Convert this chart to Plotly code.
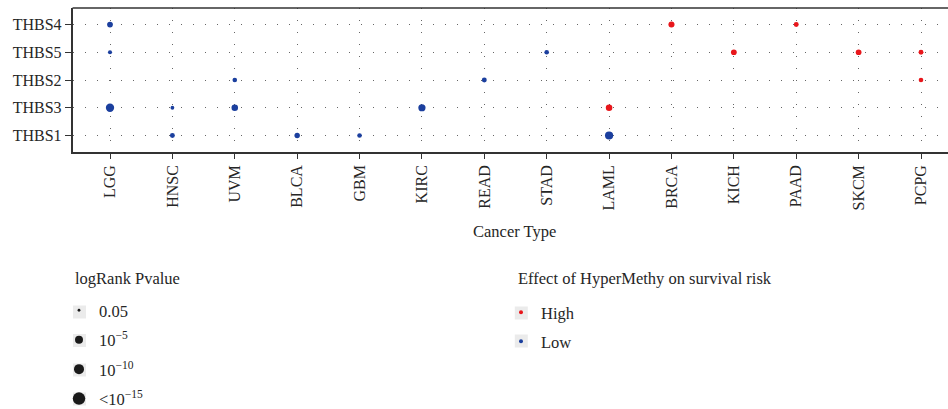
import numpy as np
import plotly.graph_objects as go

# ---- data -------------------------------------------------------------
cancers = ["LGG", "HNSC", "UVM", "BLCA", "GBM", "KIRC", "READ", "STAD",
           "LAML", "BRCA", "KICH", "PAAD", "SKCM", "PCPG"]
genes = ["THBS1", "THBS3", "THBS2", "THBS5", "THBS4"]  # bottom -> top

# significant (cancer, gene) pairs, their log-rank p-values and effect
pt_cancer = ["LGG", "LGG", "LGG", "HNSC", "HNSC", "UVM", "UVM", "BLCA",
             "GBM", "KIRC", "READ", "STAD", "LAML", "LAML", "BRCA",
             "KICH", "PAAD", "SKCM", "PCPG", "PCPG"]
pt_gene = ["THBS4", "THBS5", "THBS3", "THBS3", "THBS1", "THBS2", "THBS3",
           "THBS1", "THBS1", "THBS3", "THBS2", "THBS5", "THBS3", "THBS1",
           "THBS4", "THBS5", "THBS4", "THBS5", "THBS5", "THBS2"]
pt_pvalue = [4e-4, 6e-3, 1.8e-6, 1e-2, 1.5e-3, 2.6e-3, 1.1e-4, 7e-4,
             2.6e-3, 3.6e-5, 1.5e-3, 2.6e-3, 1.1e-4, 3e-6, 2.3e-4,
             4e-4, 1.5e-3, 4e-4, 1.5e-3, 2.6e-3]
pt_effect = ["Low", "Low", "Low", "Low", "Low", "Low", "Low", "Low",
             "Low", "Low", "Low", "Low", "High", "Low", "High",
             "High", "High", "High", "High", "High"]

size_breaks = [0.05, 1e-5, 1e-10, 1e-15]
size_labels = ["0.05", "10<sup>−5</sup>", "10<sup>−10</sup>", "<10<sup>−15</sup>"]
effect_levels = ["High", "Low"]

# ---- styling ----------------------------------------------------------
W, H = 948, 409
FONT = "Liberation Serif"
TXT = "#262626"
COLORS = {"High": "#e8161b", "Low": "#1b3f9e"}
BREAK_DIAM = [2.8, 8.0, 10.0, 12.5]   # marker diameter at each size break


def diameter(p):
    """Size scale: -log10(p) -> marker diameter in px."""
    x = -np.log10(np.asarray(p, dtype=float))
    return np.interp(x, -np.log10(size_breaks), BREAK_DIAM)


# plot panel in pixels
PX_L, PX_R, PX_T, PX_B = 72.5, 948, 8, 152

fig = go.Figure()

ci = {c: i for i, c in enumerate(cancers)}
gi = {g: i for i, g in enumerate(genes)}
for eff in effect_levels:
    idx = [k for k, e in enumerate(pt_effect) if e == eff]
    fig.add_trace(go.Scatter(
        x=[ci[pt_cancer[k]] for k in idx],
        y=[gi[pt_gene[k]] for k in idx],
        mode="markers",
        marker=dict(color=COLORS[eff], size=diameter([pt_pvalue[k] for k in idx]),
                    opacity=1, line=dict(width=0)),
        showlegend=False,
        hovertext=[f"{pt_cancer[k]} {pt_gene[k]} p={pt_pvalue[k]:g}" for k in idx],
    ))

# size legend entries
for lab, d in zip(size_labels, BREAK_DIAM):
    fig.add_trace(go.Scatter(
        x=[None], y=[None], mode="markers", name=lab, legend="legend",
        legendgroup="s" + lab,
        marker=dict(color="#1a1a1a", size=d, line=dict(width=0)),
    ))
# colour legend entries
for eff in effect_levels:
    fig.add_trace(go.Scatter(
        x=[None], y=[None], mode="markers", name=eff, legend="legend2",
        legendgroup="c" + eff,
        marker=dict(color=COLORS[eff], size=4, line=dict(width=0)),
    ))

# place ranges so the panel edges land on the wanted pixels
xstep = 62.38
x0 = -(110 - PX_L) / xstep
x1 = (len(cancers) - 1) + (PX_R - 921) / xstep
y0, y1 = -0.595, len(genes) - 1 + 0.595

dot_grid = dict(showgrid=True, gridcolor="#666666", gridwidth=1, griddash="1px,11px")
TICK_SIZE = 16
TITLE_SIZE = 16.5

fig.update_layout(
    width=W, height=H,
    margin=dict(l=0, r=0, t=0, b=0, autoexpand=False),
    paper_bgcolor="white", plot_bgcolor="white",
    font=dict(family=FONT, size=TITLE_SIZE, color=TXT),
    xaxis=dict(
        domain=[PX_L / W, PX_R / W], range=[x0, x1],
        tickmode="array", tickvals=list(range(len(cancers))), ticktext=cancers,
        tickangle=-90, ticks="outside", ticklen=5, tickwidth=1.2, tickcolor="#333",
        showline=True, linecolor="#333", linewidth=1.5,
        zeroline=False, automargin=False, fixedrange=True,
        tickfont=dict(family=FONT, size=TICK_SIZE, color=TXT),
        **dot_grid,
    ),
    yaxis=dict(
        domain=[1 - PX_B / H, 1 - PX_T / H], range=[y0, y1],
        tickmode="array", tickvals=list(range(len(genes))), ticktext=genes,
        ticks="outside", ticklen=6, tickwidth=1.2, tickcolor="#333",
        showline=True, linecolor="#333", linewidth=1.5,
        zeroline=False, automargin=False, fixedrange=True,
        tickfont=dict(family=FONT, size=TICK_SIZE, color=TXT),
        **dot_grid,
    ),
    legend=dict(
        x=59 / W, y=1 - 293 / H, xanchor="left", yanchor="top",
        bgcolor="rgba(0,0,0,0)", borderwidth=0,
        font=dict(family=FONT, size=TITLE_SIZE, color=TXT),
        traceorder="grouped", tracegroupgap=5, itemsizing="trace",
    ),
    legend2=dict(
        x=501 / W, y=1 - 295 / H, xanchor="left", yanchor="top",
        bgcolor="rgba(0,0,0,0)", borderwidth=0,
        font=dict(family=FONT, size=TITLE_SIZE, color=TXT),
        traceorder="grouped", tracegroupgap=4.5, itemsizing="trace",
    ),
    showlegend=True,
)

# top border of the panel
fig.add_shape(type="line", xref="paper", yref="paper",
              x0=PX_L / W, x1=1, y0=1 - PX_T / H, y1=1 - PX_T / H,
              line=dict(color="#333", width=1.5))

# axis title and legend titles
fig.add_annotation(text="Cancer Type", x=514.5 / W, y=1 - 232 / H,
                   xref="paper", yref="paper", showarrow=False,
                   xanchor="center", yanchor="middle",
                   font=dict(family=FONT, size=TITLE_SIZE, color=TXT))
fig.add_annotation(text="logRank Pvalue", x=72.5 / W, y=1 - 278 / H,
                   xref="paper", yref="paper", showarrow=False,
                   xanchor="left", yanchor="middle",
                   font=dict(family=FONT, size=TITLE_SIZE, color=TXT))
fig.add_annotation(text="Effect of HyperMethy on survival risk", x=516 / W, y=1 - 278 / H,
                   xref="paper", yref="paper", showarrow=False,
                   xanchor="left", yanchor="middle",
                   font=dict(family=FONT, size=TITLE_SIZE, color=TXT))

# grey key backgrounds behind legend symbols
key_centres_1 = [(79.5, 312), (79.5, 340.5), (79.5, 370), (79.5, 399)]
key_centres_2 = [(521.3, 313), (521.3, 341)]
for cx, cy in key_centres_1 + key_centres_2:
    fig.add_shape(type="rect", xref="paper", yref="paper", layer="below",
                  x0=(cx - 6.5) / W, x1=(cx + 6.5) / W,
                  y0=1 - (cy + 6.5) / H, y1=1 - (cy - 6.5) / H,
                  fillcolor="#ebebeb", line=dict(width=0))

fig.write_html("out.html")
